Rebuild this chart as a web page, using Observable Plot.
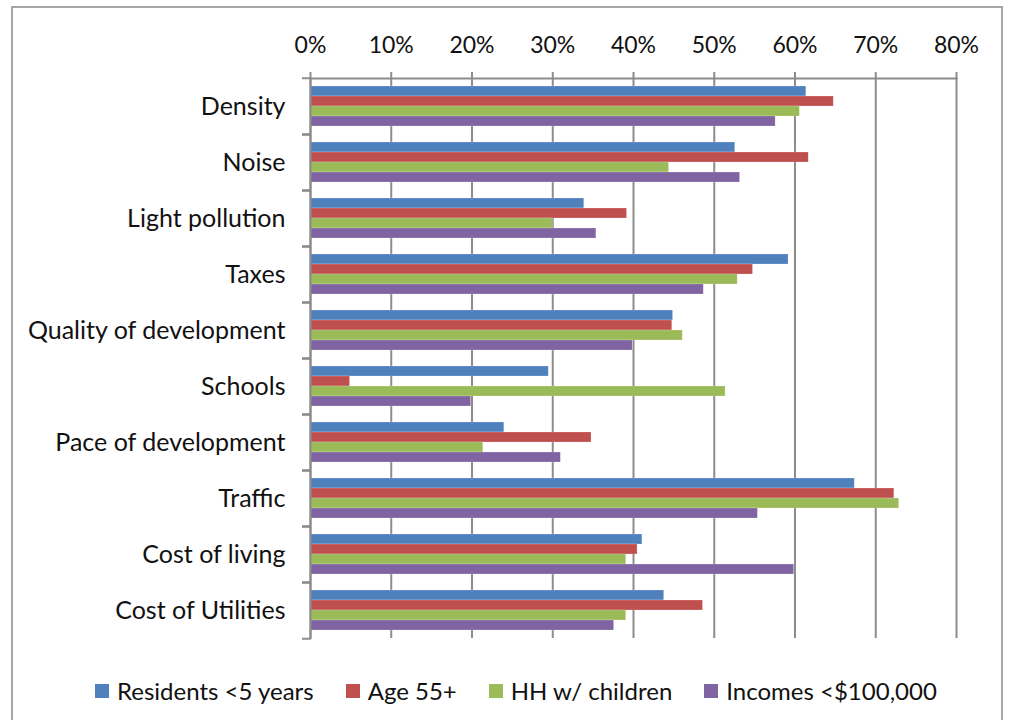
<!DOCTYPE html>
<html>
<head>
<meta charset="utf-8">
<script src="https://cdn.jsdelivr.net/npm/d3@7"></script>
<script src="https://cdn.jsdelivr.net/npm/@observablehq/plot@0.6"></script>
<style>
  html, body { margin: 0; padding: 0; background: #fff; }
  #frame { position: absolute; left: 11px; top: 6px; width: 992px; height: 760px; border: 2px solid #a6a6a6; box-sizing: border-box; }
  #chart { position: absolute; left: 0; top: 0; }
  #legend { position: absolute; left: 95px; top: 676px; display: flex; gap: 32px; font-family: Lato, "Open Sans", sans-serif; font-size: 24px; color: #111; }
  .item { display: flex; align-items: center; gap: 8px; white-space: nowrap; }
  .sw { width: 14px; height: 14px; display: inline-block; }
</style>
</head>
<body>
<div id="frame"></div>
<div id="chart"></div>
<div id="legend"></div>
<script>
const categories = ["Density", "Noise", "Light pollution", "Taxes", "Quality of development", "Schools", "Pace of development", "Traffic", "Cost of living", "Cost of Utilities"];
const series = ["Residents <5 years", "Age 55+", "HH w/ children", "Incomes <$100,000"];
const residents = [0.614, 0.526, 0.339, 0.592, 0.449, 0.295, 0.240, 0.674, 0.411, 0.438];
const age55 = [0.648, 0.617, 0.392, 0.548, 0.448, 0.049, 0.348, 0.723, 0.405, 0.486];
const hhChildren = [0.606, 0.444, 0.300, 0.529, 0.461, 0.514, 0.214, 0.729, 0.391, 0.391];
const incomes = [0.576, 0.532, 0.354, 0.487, 0.399, 0.199, 0.310, 0.554, 0.599, 0.376];
const xTicks = [0, 0.1, 0.2, 0.3, 0.4, 0.5, 0.6, 0.7, 0.8];
const colors = ["#4F81BD", "#C0504D", "#9BBB59", "#8064A2"];

const valuesBySeries = [residents, age55, hhChildren, incomes];
const data = [];
categories.forEach((c, i) => {
  series.forEach((s, j) => data.push({category: c, series: s, value: valuesBySeries[j][i]}));
});

const grid = "#8c8c8c";
const chart = Plot.plot({
  width: 1009,
  height: 660,
  marginLeft: 310,
  marginRight: 53,
  marginTop: 75,
  marginBottom: 20,
  style: {fontFamily: "Lato, 'Open Sans', sans-serif", fontSize: "22px", color: "#111", background: "transparent"},
  x: {domain: [0, 0.8], label: null, axis: null},
  y: {domain: series, paddingInner: 0, paddingOuter: 0.75, axis: null},
  fy: {domain: categories, padding: 0, label: null, axis: null},
  color: {domain: series, range: colors},
  marks: [
    Plot.gridX(xTicks, {stroke: grid, strokeOpacity: 1, strokeWidth: 2}),
    Plot.barX(data, {x: "value", y: "series", fy: "category", fill: "series", stroke: "#fff", strokeOpacity: 0.35, strokeWidth: 0.6}),
    Plot.axisX(xTicks, {anchor: "top", tickSize: 7, tickPadding: 19, tickFormat: d3.format(".0%"), stroke: grid, strokeWidth: 2, fill: "#111", fontSize: 23, label: null}),
    Plot.axisFy({anchor: "left", tickSize: 0, tickPadding: 25, fill: "#111", fontSize: 25, label: null}),
    Plot.axisFy({anchor: "left", tickSize: 8, text: null, stroke: grid, strokeWidth: 2, dy: 28.25, label: null}),
    Plot.axisFy({anchor: "left", tickSize: 8, text: null, stroke: grid, strokeWidth: 2, dy: -28.25, label: null}),
    Plot.frame({anchor: "top", facet: "super", stroke: grid, strokeWidth: 2}),
    Plot.frame({anchor: "left", facet: "super", stroke: grid, strokeWidth: 2})
  ]
});
document.getElementById("chart").appendChild(chart);

const legend = document.getElementById("legend");
series.forEach((s, j) => {
  const it = document.createElement("div");
  it.className = "item";
  const sw = document.createElement("span");
  sw.className = "sw";
  sw.style.background = colors[j];
  const t = document.createElement("span");
  t.textContent = s;
  it.appendChild(sw);
  it.appendChild(t);
  legend.appendChild(it);
});
</script>
</body>
</html>
